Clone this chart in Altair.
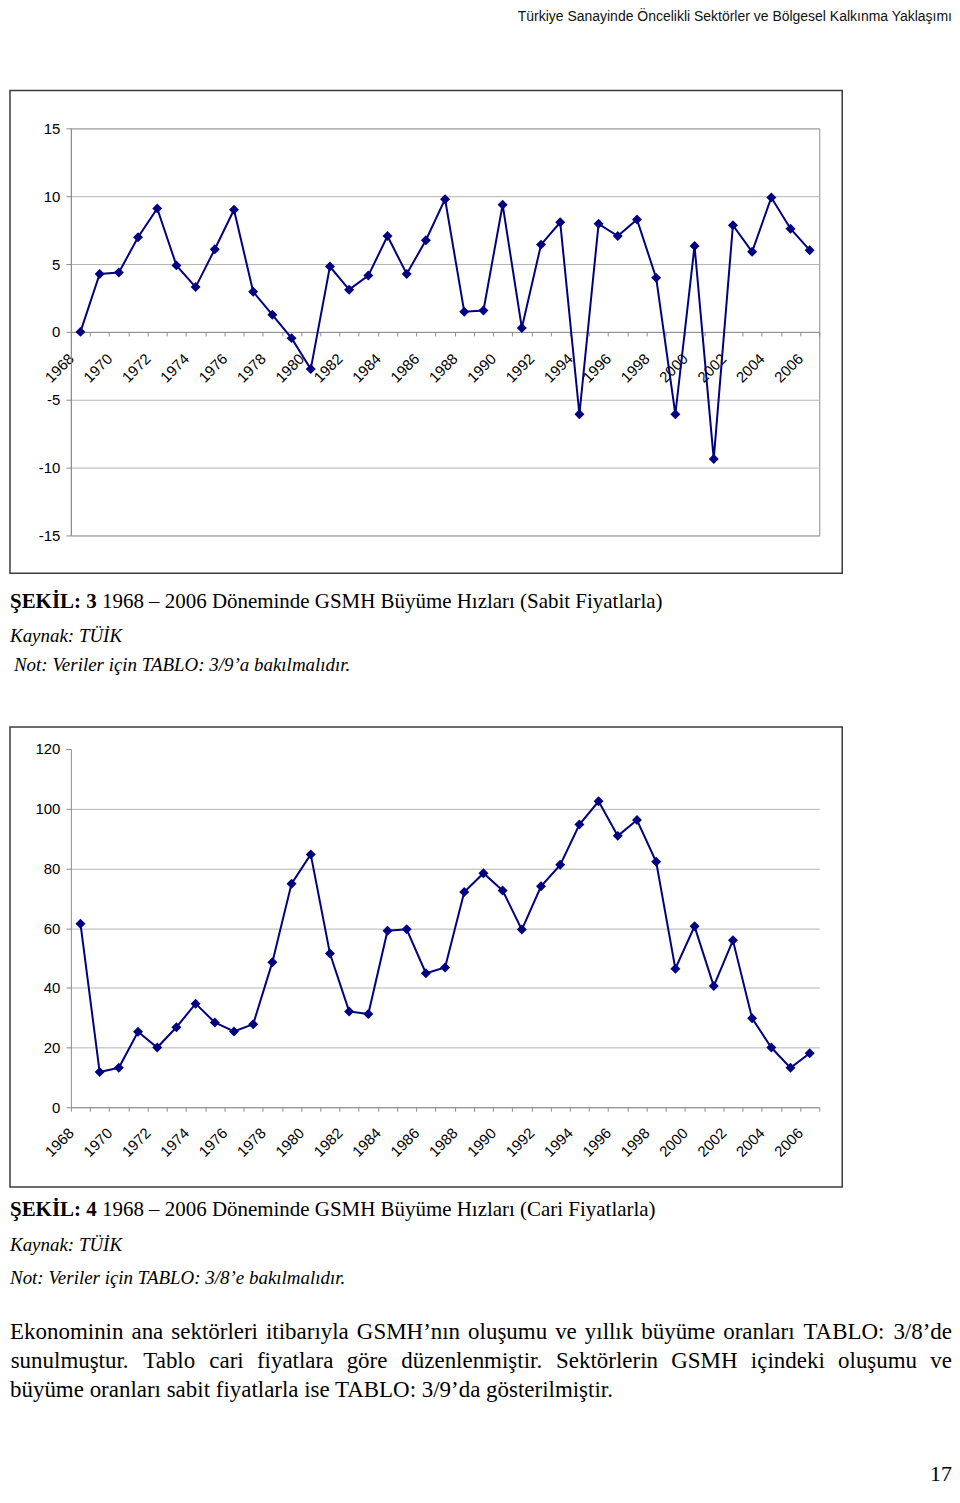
import altair as alt
import pandas as pd

# ---------------- data ----------------
years = list(range(1968, 2007))
sabit_fiyat = [0.0, 4.27, 4.37, 6.97, 9.10, 4.90, 3.30, 6.09, 9.00, 2.96, 1.26, -0.46, -2.74,
               4.81, 3.11, 4.15, 7.06, 4.27, 6.75, 9.78, 1.48, 1.58, 9.37, 0.29, 6.43, 8.08,
               -6.07, 7.96, 7.06, 8.28, 3.98, -6.07, 6.33, -9.37, 7.86, 5.90, 9.90, 7.60, 6.02]
cari_fiyat = [61.5, 11.8, 13.2, 25.3, 20.0, 26.8, 34.7, 28.4, 25.4, 27.8, 48.6, 74.9, 84.7,
              51.5, 32.1, 31.2, 59.1, 59.6, 44.9, 46.8, 72.1, 78.4, 72.6, 59.5, 74.0, 81.2,
              94.7, 102.5, 90.9, 96.2, 82.2, 46.4, 60.6, 40.6, 55.9, 29.8, 20.0, 13.2, 18.1]
sabit_ticks = [-15, -10, -5, 0, 5, 10, 15]
cari_ticks = [0, 20, 40, 60, 80, 100, 120]
year_edges = [y - 0.5 for y in range(1968, 2008)]

header_text = "Türkiye Sanayinde Öncelikli Sektörler ve Bölgesel Kalkınma Yaklaşımı"
cap3_bold = "ŞEKİL: 3"
cap3_rest = "1968 – 2006 Döneminde GSMH Büyüme Hızları (Sabit Fiyatlarla)"
cap4_bold = "ŞEKİL: 4"
cap4_rest = "1968 – 2006 Döneminde GSMH Büyüme Hızları (Cari Fiyatlarla)"
source_text = "Kaynak: TÜİK"
note3_text = "Not: Veriler için TABLO: 3/9’a bakılmalıdır."
note4_text = "Not: Veriler için TABLO: 3/8’e bakılmalıdır."
para_lines = [
    "Ekonominin ana sektörleri itibarıyla GSMH’nın oluşumu ve yıllık büyüme oranları TABLO: 3/8’de",
    "sunulmuştur. Tablo cari fiyatlara göre düzenlenmiştir. Sektörlerin GSMH içindeki oluşumu ve",
    "büyüme oranları sabit fiyatlarla ise TABLO: 3/9’da gösterilmiştir.",
]
page_number = "17"

# ---------------- style ----------------
W = 750
H1 = 408
H2 = 359
NAVY = "#000080"
SERIF = "Liberation Serif"
SANS = "Liberation Sans"
GRID = "#b4b4b4"
AXIS = "#8c8c8c"
FRAME = "#3c3c3c"
LEFT = -61
RIGHT = 883

# Times (Liberation Serif) advance widths, per 1000 em
TIMES = {}
for ch, w in zip("abcdefghijklmnopqrstuvwxyz",
                 [444, 500, 444, 500, 444, 333, 500, 500, 278, 278, 500, 278, 778, 500, 500, 500,
                  500, 333, 389, 278, 500, 500, 722, 500, 500, 444]):
    TIMES[ch] = w
for ch, w in zip("ABCDEFGHIJKLMNOPQRSTUVWXYZ",
                 [722, 667, 667, 722, 611, 556, 722, 722, 333, 389, 722, 611, 889, 722, 722, 556,
                  722, 667, 556, 611, 722, 722, 944, 722, 722, 611]):
    TIMES[ch] = w
TIMES.update({"ı": 278, "ş": 389, "ç": 444, "ğ": 500, "ö": 500, "ü": 500, "Ş": 556, "Ö": 722,
              "Ü": 722, "İ": 333, "Ç": 667, "Ğ": 722, " ": 250, ":": 278, ".": 250, ",": 250,
              "/": 278, "’": 333, "(": 333, ")": 333, "–": 500})
for d in "0123456789":
    TIMES[d] = 500
TIMES_BOLD = {"Ş": 556, "E": 667, "K": 778, "İ": 389, "L": 667, ":": 333, " ": 250, "3": 500, "4": 500}


def text_width(s, size, table=TIMES):
    return sum(table.get(c, 500) for c in s) * size / 1000.0


one = pd.DataFrame({"k": [0]})


def txt(text, x, y, font=SERIF, size=21, align="left", style="normal", weight="normal",
        color="black", baseline="middle"):
    return alt.Chart(one).mark_text(
        text=text, font=font, fontSize=size, align=align, baseline=baseline,
        fontStyle=style, fontWeight=weight, color=color
    ).encode(x=alt.value(x), y=alt.value(y))


def year_axis(offset, pad):
    return alt.Axis(
        values=year_edges,
        labelExpr="(datum.value + 0.5) % 2 == 0 ? format(datum.value + 0.5, 'd') : ''",
        labelAngle=315, labelAlign="right", labelBaseline="middle", labelPadding=pad,
        labelOverlap=False, labelFlush=False, labelFont=SANS, labelFontSize=15,
        labelColor="black", tickSize=4, tickColor=AXIS, domainColor=AXIS, grid=False,
        title=None, offset=offset)


def frame(x1, x2, y1, y2):
    return alt.Chart(one).mark_rect(fill="transparent", stroke=FRAME, strokeWidth=1.5).encode(
        x=alt.value(x1), x2=alt.value(x2), y=alt.value(y1), y2=alt.value(y2))


def line_plot(vals, ydomain, yticks, xoffset, pad, grid_opacity):
    df = pd.DataFrame({"year": years, "value": vals})
    base = alt.Chart(df).encode(
        x=alt.X("year:Q", scale=alt.Scale(domain=[1967.5, 2006.5], nice=False, zero=False),
                axis=year_axis(xoffset, pad)),
        y=alt.Y("value:Q", scale=alt.Scale(domain=ydomain, nice=False, zero=False),
                axis=alt.Axis(values=yticks, grid=True, gridColor=GRID, gridOpacity=grid_opacity,
                              domainColor=AXIS, tickColor=AXIS, tickSize=5, labelPadding=6,
                              labelExpr="datum.value < 0 ? '-' + abs(datum.value) : '' + datum.value",
                              labelFont=SANS, labelFontSize=15, labelColor="black",
                              labelFlush=False, title=None)),
    )
    line = base.mark_line(color=NAVY, strokeWidth=2)
    pts = base.mark_point(shape="diamond", filled=True, size=100, color=NAVY, opacity=1)
    return line, pts


# ---------------- panel 0: running header ----------------
p0 = alt.layer(
    txt(header_text, RIGHT, 7, font=SANS, size=14, align="right", color="#111"),
).properties(width=W, height=79)

# ---------------- panel 1: chart 3 ----------------
l1, pt1 = line_plot(sabit_fiyat, [-15, 15], sabit_ticks, -H1 / 2, 20, 1)
p1 = alt.layer(frame(-61, 773, -38, 446), l1, pt1).properties(
    width=W, height=H1, view=alt.ViewBackground(stroke=AXIS, strokeWidth=1))

# ---------------- panel 2: caption 3 ----------------
p2 = alt.layer(
    txt(cap3_bold, LEFT, 26.5, size=21, weight="bold"),
    txt(cap3_rest, LEFT + text_width(cap3_bold, 21, TIMES_BOLD) + 21 * 0.25, 26.5, size=21),
    txt(source_text, LEFT, 60.5, size=19, style="italic"),
    txt(note3_text, LEFT + 4, 89.5, size=19, style="italic"),
).properties(width=W, height=151)

# ---------------- panel 3: chart 4 ----------------
l2, pt2 = line_plot(cari_fiyat, [0, 120], cari_ticks, 0, 19,
                    {"condition": {"test": "datum.value == 120", "value": 0}, "value": 1})
p3 = alt.layer(frame(-61, 773, -22, 439), l2, pt2).properties(
    width=W, height=H2, view=alt.ViewBackground(strokeWidth=0))

# ---------------- panel 4: caption 4 + paragraph ----------------
PARA_FS = 23
para_y = [144, 173, 202]
rows = []
for li, line in enumerate(para_lines[:2]):
    words = line.split(" ")
    ws = [text_width(w, PARA_FS) for w in words]
    gap = (RIGHT - LEFT - sum(ws)) / (len(words) - 1)
    x = LEFT
    for w, wd in zip(words, ws):
        rows.append({"w": w, "px": x + wd / 2, "py": para_y[li]})
        x += wd + gap
words_df = pd.DataFrame(rows)
para_words = alt.Chart(words_df).mark_text(
    font=SERIF, fontSize=PARA_FS, align="center", baseline="middle", color="black"
).encode(x=alt.X("px:Q", scale=None, axis=None), y=alt.Y("py:Q", scale=None, axis=None), text="w:N")

p4 = alt.layer(
    txt(cap4_bold, LEFT, 22, size=21, weight="bold"),
    txt(cap4_rest, LEFT + text_width(cap4_bold, 21, TIMES_BOLD) + 21 * 0.25, 22, size=21),
    txt(source_text, LEFT, 57, size=19, style="italic"),
    txt(note4_text, LEFT, 90, size=19, style="italic"),
    para_words,
    txt(para_lines[2], LEFT, para_y[2], size=PARA_FS),
    txt(page_number, RIGHT, 294, size=22, align="right", baseline="alphabetic"),
).properties(width=W, height=300)

chart = alt.vconcat(p0, p1, p2, p3, p4, spacing=0).properties(padding=0).configure_view(
    strokeWidth=0)

chart.save("out.html", embed_options={"renderer": "svg", "actions": False})
